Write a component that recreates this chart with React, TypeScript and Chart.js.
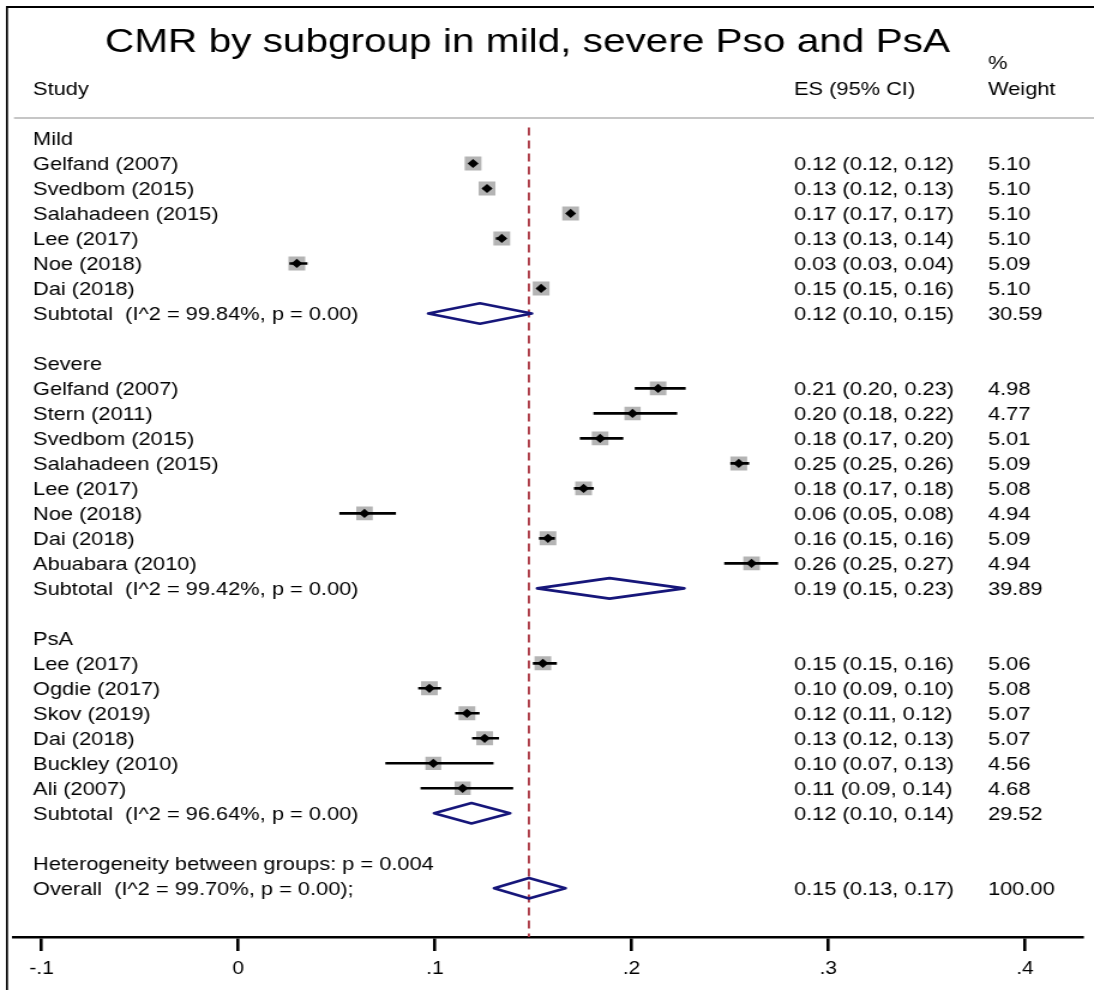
import React, { useEffect, useRef } from 'react';
import { Chart, registerables } from 'chart.js';

Chart.register(...registerables);

// ---------------- data ----------------
const chartTitle = 'CMR by subgroup in mild, severe Pso and PsA';
const groupNames = ['Mild', 'Severe', 'PsA'];

const mildStudies = ['Gelfand (2007)', 'Svedbom (2015)', 'Salahadeen (2015)', 'Lee (2017)', 'Noe (2018)', 'Dai (2018)'];
const mildES = [0.1194, 0.1265, 0.169, 0.134, 0.0298, 0.154];
const mildLo = [0.118, 0.1245, 0.1675, 0.131, 0.026, 0.152];
const mildHi = [0.121, 0.1285, 0.17, 0.136, 0.0352, 0.156];
const mildWeight = [5.1, 5.1, 5.1, 5.1, 5.09, 5.1];

const severeStudies = ['Gelfand (2007)', 'Stern (2011)', 'Svedbom (2015)', 'Salahadeen (2015)', 'Lee (2017)', 'Noe (2018)', 'Dai (2018)', 'Abuabara (2010)'];
const severeES = [0.2135, 0.2005, 0.184, 0.2545, 0.1756, 0.0642, 0.1575, 0.261];
const severeLo = [0.2016, 0.1806, 0.1737, 0.2502, 0.1707, 0.0514, 0.1529, 0.2471];
const severeHi = [0.2275, 0.2232, 0.1958, 0.2598, 0.1808, 0.0802, 0.161, 0.2745];
const severeWeight = [4.98, 4.77, 5.01, 5.09, 5.08, 4.94, 5.09, 4.94];

const psaStudies = ['Lee (2017)', 'Ogdie (2017)', 'Skov (2019)', 'Dai (2018)', 'Buckley (2010)', 'Ali (2007)'];
const psaES = [0.1549, 0.0972, 0.1163, 0.1253, 0.0992, 0.1141];
const psaLo = [0.1498, 0.0915, 0.1103, 0.1189, 0.0748, 0.0927];
const psaHi = [0.162, 0.1031, 0.1227, 0.1326, 0.1298, 0.1398];
const psaWeight = [5.06, 5.08, 5.07, 5.07, 4.56, 4.68];

const subtotalES = [0.1229, 0.1888, 0.1186];
const subtotalLo = [0.0966, 0.152, 0.0996];
const subtotalHi = [0.1493, 0.2268, 0.1382];
const subtotalWeight = [30.59, 39.89, 29.52];
const subtotalI2 = [99.84, 99.42, 96.64];
const subtotalP = [0.0, 0.0, 0.0];

const overallES = 0.1478;
const overallLo = 0.1301;
const overallHi = 0.1664;
const overallWeight = 100.0;
const overallI2 = 99.7;
const overallP = 0.0;
const heterogeneityP = 0.004;

const xTicks = [-0.1, 0, 0.1, 0.2, 0.3, 0.4];
const xTickLabels = ['-.1', '0', '.1', '.2', '.3', '.4'];

// ---------------- layout (display px; canvas is stretched horizontally) ----------------
const DISPLAY_W = 1094;
const DISPLAY_H = 990;
const STRETCH = 1.2;
const CANVAS_W = Math.round(DISPLAY_W / STRETCH);
const CANVAS_H = DISPLAY_H;
const SX = CANVAS_W / DISPLAY_W;
const cx = (v: number) => v * SX;

const AXIS_LEFT = 14;
const LABEL_X = 33;
const ES_X = 794;
const WT_X = 988;
const TITLE_CX = 527.5;
const TITLE_BASE = 51.5;
const HEADER_BASE = 95;
const PCT_BASE = 68.5;
const SEP_Y = 118;
const ROW0 = 136;
const ROW_STEP = 25.07;
const TOP_PAD = 7;
const AXIS_Y = 937;
const TEXT_DROP = 6.8;
const X_MIN = -0.11403;
const X_MAX = 0.42907;
const Y_MIN = (TOP_PAD - ROW0) / ROW_STEP;
const Y_MAX = (AXIS_Y - ROW0) / ROW_STEP;
const DIAMOND_HALF = 0.41;
const DASH_TOP = -0.44;

const FONT_FAMILY = '"Liberation Sans", Arial, Helvetica, sans-serif';
const ROW_FONT = `18.2px ${FONT_FAMILY}`;
const TITLE_FONT = `33.8px ${FONT_FAMILY}`;

// ---------------- rows ----------------
type Row = { kind: string; label: string; es?: number; lo?: number; hi?: number; w?: number };

const groups = [
  { studies: mildStudies, es: mildES, lo: mildLo, hi: mildHi, w: mildWeight },
  { studies: severeStudies, es: severeES, lo: severeLo, hi: severeHi, w: severeWeight },
  { studies: psaStudies, es: psaES, lo: psaLo, hi: psaHi, w: psaWeight },
];

const rows: Row[] = [];
groups.forEach((g, gi) => {
  rows.push({ kind: 'group', label: groupNames[gi] });
  g.studies.forEach((s, k) => rows.push({ kind: 'study', label: s, es: g.es[k], lo: g.lo[k], hi: g.hi[k], w: g.w[k] }));
  rows.push({
    kind: 'pooled',
    label: `Subtotal  (I^2 = ${subtotalI2[gi].toFixed(2)}%, p = ${subtotalP[gi].toFixed(2)})`,
    es: subtotalES[gi], lo: subtotalLo[gi], hi: subtotalHi[gi], w: subtotalWeight[gi],
  });
  rows.push({ kind: 'blank', label: '' });
});
rows.push({ kind: 'het', label: `Heterogeneity between groups: p = ${heterogeneityP.toFixed(3)}` });
rows.push({
  kind: 'pooled',
  label: `Overall  (I^2 = ${overallI2.toFixed(2)}%, p = ${overallP.toFixed(2)});`,
  es: overallES, lo: overallLo, hi: overallHi, w: overallWeight,
});

const studyRows = rows.map((r, i) => ({ ...r, row: i })).filter((r) => r.kind === 'study');
const pooledRows = rows.map((r, i) => ({ ...r, row: i })).filter((r) => r.kind === 'pooled');

const GAP = { x: null as any, y: null as any };
const ciData: any[] = [];
studyRows.forEach((r) => {
  ciData.push({ x: r.lo, y: r.row }, { x: r.hi, y: r.row }, GAP);
});
const diamondData: any[] = [];
pooledRows.forEach((r) => {
  diamondData.push(
    { x: r.lo, y: r.row },
    { x: r.es, y: r.row - DIAMOND_HALF },
    { x: r.hi, y: r.row },
    { x: r.es, y: r.row + DIAMOND_HALF },
    { x: r.lo, y: r.row },
    { x: r.es, y: r.row - DIAMOND_HALF },
    GAP,
  );
});

// ---------------- text / frame plugin ----------------
const forestText = {
  id: 'forestText',
  afterDraw(chart: any) {
    const ctx = chart.ctx as CanvasRenderingContext2D;
    const y = chart.scales.y;
    ctx.save();
    // frame
    ctx.strokeStyle = '#000';
    ctx.lineWidth = 2;
    ctx.beginPath();
    ctx.moveTo(cx(6), 7);
    ctx.lineTo(CANVAS_W, 7);
    ctx.stroke();
    ctx.lineWidth = 1.7;
    ctx.beginPath();
    ctx.moveTo(cx(7), 7);
    ctx.lineTo(cx(7), CANVAS_H);
    ctx.stroke();
    // separator
    ctx.strokeStyle = '#c6c6c6';
    ctx.lineWidth = 2;
    ctx.beginPath();
    ctx.moveTo(cx(AXIS_LEFT), SEP_Y);
    ctx.lineTo(CANVAS_W, SEP_Y);
    ctx.stroke();

    ctx.fillStyle = '#000';
    ctx.textBaseline = 'alphabetic';
    ctx.font = TITLE_FONT;
    ctx.textAlign = 'center';
    ctx.fillText(chartTitle, cx(TITLE_CX), TITLE_BASE);
    ctx.textAlign = 'left';
    ctx.font = ROW_FONT;
    ctx.fillText('Study', cx(LABEL_X), HEADER_BASE);
    ctx.fillText('ES (95% CI)', cx(ES_X), HEADER_BASE);
    ctx.fillText('%', cx(WT_X), PCT_BASE);
    ctx.fillText('Weight', cx(WT_X), HEADER_BASE);

    rows.forEach((r, i) => {
      if (!r.label) return;
      const py = y.getPixelForValue(i) + TEXT_DROP;
      ctx.fillText(r.label, cx(LABEL_X), py);
      if (r.es !== undefined) {
        ctx.fillText(`${r.es.toFixed(2)} (${r.lo!.toFixed(2)}, ${r.hi!.toFixed(2)})`, cx(ES_X), py);
        ctx.fillText(r.w!.toFixed(2), cx(WT_X), py);
      }
    });
    ctx.restore();
  },
};

export default function App() {
  const ref = useRef<HTMLCanvasElement>(null);
  useEffect(() => {
    if (!ref.current) return;
    const chart = new Chart(ref.current, {
      type: 'scatter',
      data: {
        datasets: [
          {
            label: 'estimate',
            data: studyRows.map((r) => ({ x: r.es, y: r.row })),
            pointStyle: 'rectRot',
            pointRadius: 4.6,
            pointBackgroundColor: '#000',
            pointBorderWidth: 0,
            showLine: false,
            order: 0,
          } as any,
          {
            type: 'line',
            label: 'ci',
            data: ciData,
            borderColor: '#000',
            borderWidth: 2.6,
            pointRadius: 0,
            spanGaps: false,
            fill: false,
            order: 1,
          } as any,
          {
            label: 'weight',
            data: studyRows.map((r) => ({ x: r.es, y: r.row })),
            pointStyle: 'rect',
            pointRadius: studyRows.map((r) => 9.9 * Math.sqrt((r.w as number) / 5.1)),
            pointBackgroundColor: '#b4b4b4',
            pointBorderWidth: 0,
            showLine: false,
            order: 2,
          } as any,
          {
            type: 'line',
            label: 'pooled',
            data: diamondData,
            borderColor: '#16167a',
            borderWidth: 2.6,
            borderJoinStyle: 'round',
            pointRadius: 0,
            spanGaps: false,
            fill: false,
            order: 3,
          } as any,
          {
            type: 'line',
            label: 'overall line',
            data: [{ x: overallES, y: DASH_TOP }, { x: overallES, y: Y_MAX }],
            borderColor: '#a8323e',
            borderWidth: 1.8,
            borderDash: [8, 5],
            pointRadius: 0,
            fill: false,
            order: 4,
          } as any,
        ],
      },
      options: {
        responsive: false,
        animation: false,
        devicePixelRatio: 1,
        events: [],
        layout: { padding: { left: cx(AXIS_LEFT), right: 0, top: TOP_PAD, bottom: 0 } },
        plugins: { legend: { display: false }, tooltip: { enabled: false }, title: { display: false } },
        scales: {
          x: {
            type: 'linear',
            min: X_MIN,
            max: X_MAX,
            afterBuildTicks: (s: any) => {
              s.ticks = xTicks.map((v) => ({ value: v }));
            },
            afterFit: (s: any) => {
              s.height = CANVAS_H - AXIS_Y;
            },
            border: { display: true, color: '#000', width: 2.5 },
            grid: { display: true, drawOnChartArea: false, drawTicks: true, tickLength: 14, color: '#000', lineWidth: 2.6 },
            ticks: {
              autoSkip: false,
              maxRotation: 0,
              padding: 8,
              color: '#000',
              font: { family: FONT_FAMILY, size: 17.5 },
              callback: (_v: any, i: number) => xTickLabels[i],
            },
          },
          y: { type: 'linear', display: false, reverse: true, min: Y_MIN, max: Y_MAX },
        },
      } as any,
      plugins: [forestText],
    });
    return () => chart.destroy();
  }, []);
  return (
    <canvas
      ref={ref}
      width={CANVAS_W}
      height={CANVAS_H}
      style={{ position: 'fixed', left: 0, top: 0, width: `${DISPLAY_W}px`, height: `${DISPLAY_H}px`, background: '#fff' }}
    />
  );
}
